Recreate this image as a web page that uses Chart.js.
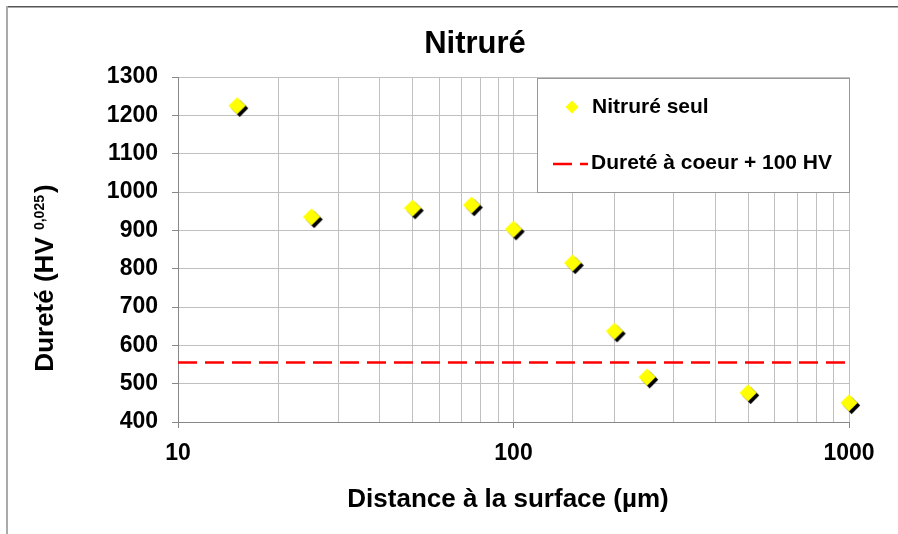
<!DOCTYPE html>
<html><head><meta charset="utf-8">
<script src="https://cdn.jsdelivr.net/npm/chart.js@4"></script>
<style>html,body{margin:0;padding:0;background:#fff}canvas{display:block}</style>
</head><body>
<canvas id="c" width="898" height="534"></canvas>
<script>
const chartTitle = 'Nitruré';
const distances = [15, 25, 50, 75, 100, 150, 200, 250, 500, 1000];
const hardness = [1225, 935, 958, 966, 903, 815, 637, 517, 476, 450];
const coreLimitValue = 555;
const coreLimitRange = [10, 1000];
const seriesLabels = ['Nitruré seul', 'Dureté à coeur + 100 HV'];
const xTitle = 'Distance à la surface (µm)';
const yTitleMain = 'Dureté (HV ';
const yTitleSub = '0,025';
const yTitleEnd = ')';
const xMajorTicks = [10, 100, 1000];
const yRange = [400, 1300];
const yStep = 100;

const FONT = "'Liberation Sans', Arial, sans-serif";

function diamondPath(g, cx, cy, r) {
  g.beginPath();
  g.moveTo(cx, cy - r); g.lineTo(cx + r, cy); g.lineTo(cx, cy + r); g.lineTo(cx - r, cy);
  g.closePath();
}
function makeMarker() {
  const c = document.createElement('canvas');
  c.width = 28; c.height = 28;
  const g = c.getContext('2d');
  diamondPath(g, 16.6, 16.6, 8.6); g.fillStyle = '#000'; g.fill();
  diamondPath(g, 14, 14, 8.6); g.fillStyle = '#ffff00'; g.fill();
  return c;
}
const marker = makeMarker();
const isMajor = v => xMajorTicks.some(m => Math.abs(m - v) < 1e-6);

const deco = {
  id: 'deco',
  beforeDraw(chart) {
    const ctx = chart.ctx;
    ctx.save();
    ctx.fillStyle = '#fff';
    ctx.fillRect(0, 0, chart.width, chart.height);
    ctx.fillStyle = '#555';
    ctx.fillRect(7, 6, chart.width - 7, 1.5);
    ctx.fillStyle = '#aaa';
    ctx.fillRect(6, 6, 2, chart.height - 6);
    ctx.restore();
  },
  afterDraw(chart) {
    const ctx = chart.ctx;
    ctx.save();
    ctx.fillStyle = '#000';
    // title
    ctx.font = 'bold 31px ' + FONT;
    ctx.textAlign = 'center'; ctx.textBaseline = 'middle';
    ctx.fillText(chartTitle, 475, 44);
    // x title
    ctx.font = 'bold 26px ' + FONT;
    ctx.fillText(xTitle, 508, 500);
    // y title with subscript
    ctx.save();
    ctx.translate(43, 278);
    ctx.rotate(-Math.PI / 2);
    ctx.textAlign = 'left'; ctx.textBaseline = 'alphabetic';
    ctx.font = 'bold 26px ' + FONT;
    const w1 = ctx.measureText(yTitleMain).width;
    const w3 = ctx.measureText(yTitleEnd).width;
    ctx.font = 'bold 14px ' + FONT;
    const w2 = ctx.measureText(yTitleSub).width;
    const total = w1 + w2 + w3 + 2;
    let x = -total / 2;
    ctx.font = 'bold 26px ' + FONT;
    ctx.fillText(yTitleMain, x, 9.5);
    x += w1;
    ctx.font = 'bold 14px ' + FONT;
    ctx.fillText(yTitleSub, x, 0.5);
    x += w2 + 2;
    ctx.font = 'bold 26px ' + FONT;
    ctx.fillText(yTitleEnd, x, 9.5);
    ctx.restore();
    // legend
    ctx.fillStyle = '#fff';
    ctx.fillRect(537, 78, 313, 115);
    ctx.strokeStyle = '#999'; ctx.lineWidth = 1;
    ctx.strokeRect(537.5, 78.5, 312, 114);
    diamondPath(ctx, 572, 107, 6.5); ctx.fillStyle = '#ffff00'; ctx.fill();
    ctx.strokeStyle = '#ff0000'; ctx.lineWidth = 2.5;
    ctx.beginPath(); ctx.moveTo(553, 164); ctx.lineTo(572, 164); ctx.moveTo(580, 164); ctx.lineTo(588, 164); ctx.stroke();
    ctx.fillStyle = '#000';
    ctx.font = 'bold 21px ' + FONT;
    ctx.textAlign = 'left'; ctx.textBaseline = 'middle';
    ctx.fillText(seriesLabels[0], 592, 107);
    ctx.fillText(seriesLabels[1], 591, 163);
    ctx.restore();
  }
};

new Chart(document.getElementById('c'), {
  type: 'scatter',
  data: {
    datasets: [
      {
        label: seriesLabels[0],
        data: distances.map((d, i) => ({ x: d, y: hardness[i] })),
        pointStyle: marker,
        clip: false,
        order: 1
      },
      {
        label: seriesLabels[1],
        data: coreLimitRange.map(d => ({ x: d, y: coreLimitValue })),
        showLine: true,
        borderColor: '#ff0000',
        borderWidth: 2.5,
        borderDash: [19, 8],
        pointRadius: 0,
        order: 2
      }
    ]
  },
  options: {
    responsive: false,
    animation: false,
    layout: { padding: { top: 77, right: 49, left: 0, bottom: 0 } },
    plugins: { legend: { display: false }, title: { display: false }, tooltip: { enabled: false } },
    scales: {
      x: {
        type: 'logarithmic',
        min: 10, max: 1000,
        afterFit(s) { s.height = 112; },
        grid: {
          color: '#c0c0c0',
          tickLength: 6,
          tickColor: c => (c.tick && isMajor(c.tick.value)) ? '#888' : 'rgba(0,0,0,0)'
        },
        border: { color: '#888' },
        ticks: {
          autoSkip: false, maxRotation: 0, minRotation: 0,
          callback: v => isMajor(v) ? String(Math.round(v)) : '',
          font: { family: FONT, size: 23, weight: 'bold' },
          color: '#000',
          padding: 12
        }
      },
      y: {
        min: yRange[0], max: yRange[1],
        afterFit(s) { s.width = 178; },
        grid: { color: '#c0c0c0', tickLength: 6, tickColor: '#888' },
        border: { color: '#888' },
        ticks: {
          stepSize: yStep,
          callback: v => String(v),
          font: { family: FONT, size: 23, weight: 'bold' },
          color: '#000',
          padding: 14
        }
      }
    }
  },
  plugins: [deco]
});
</script>
</body></html>
